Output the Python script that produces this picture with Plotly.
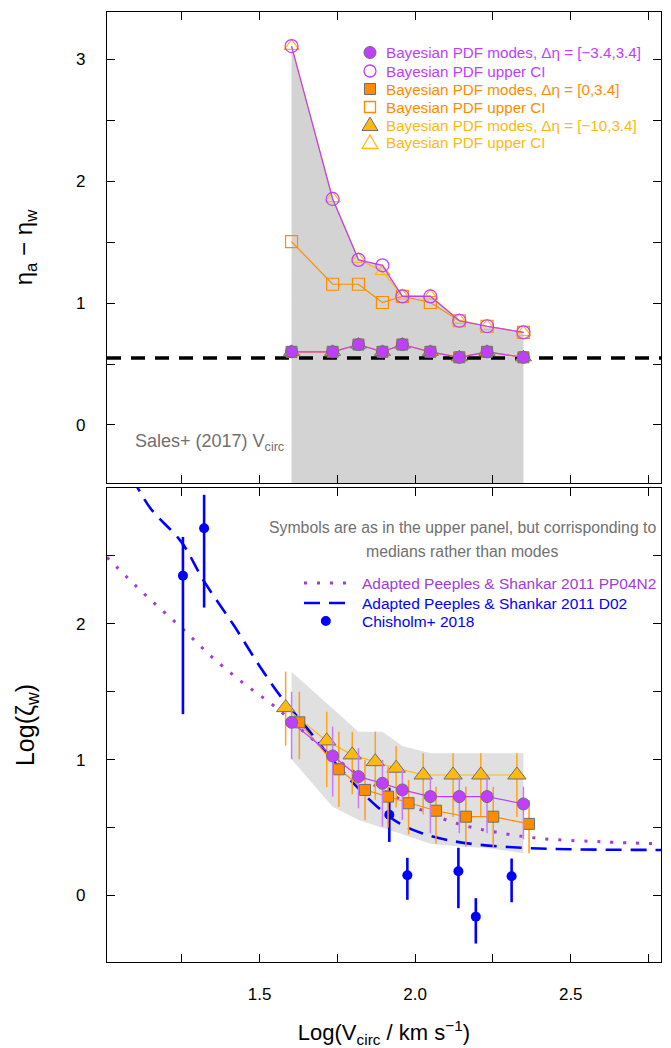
import plotly.graph_objects as go

# ---------------- data ----------------
# Upper panel: Bayesian PDF modes and upper credible intervals
x_up = [1.603, 1.735, 1.818, 1.895, 1.959, 2.049, 2.142, 2.231, 2.348]
mode_c = [0.60, 0.60, 0.66, 0.60, 0.66, 0.60, 0.555, 0.60, 0.555]   # dEta=[-3.4,3.4]
mode_s = [0.60, 0.60, 0.66, 0.60, 0.66, 0.60, 0.555, 0.60, 0.555]   # dEta=[0,3.4]
mode_t = [0.60, 0.60, 0.66, 0.60, 0.66, 0.60, 0.555, 0.60, 0.555]   # dEta=[-10,3.4]
upci_c = [3.11, 1.855, 1.355, 1.31, 1.055, 1.055, 0.855, 0.81, 0.76]
upci_s = [1.505, 1.155, 1.155, 1.005, 1.055, 1.005, 0.855, 0.81, 0.76]
upci_t = [3.11, 1.86, 1.36, 1.26, 1.06, 1.06, 0.86, 0.81, 0.76]
sales_level = 0.55

# Lower panel: medians with error bars
x_med_t = [1.584, 1.716, 1.798, 1.872, 1.939, 2.026, 2.122, 2.211, 2.327]
x_med_c = [1.603, 1.735, 1.818, 1.895, 1.959, 2.049, 2.142, 2.231, 2.348]
x_med_s = [1.628, 1.755, 1.839, 1.913, 1.979, 2.067, 2.163, 2.251, 2.366]
med_t = [1.383, 1.138, 1.035, 0.985, 0.937, 0.887, 0.887, 0.887, 0.887]
med_c = [1.275, 1.027, 0.875, 0.826, 0.777, 0.728, 0.728, 0.728, 0.674]
med_s = [1.275, 0.929, 0.777, 0.728, 0.679, 0.624, 0.580, 0.580, 0.527]
t_plus = [0.265, 0.215, 0.171, 0.221, 0.163, 0.16, 0.16, 0.16, 0.16]
t_minus = [0.28, 0.34, 0.29, 0.28, 0.29, 0.29, 0.31, 0.31, 0.31]
c_plus = [0.225, 0.216, 0.209, 0.172, 0.147, 0.147, 0.147, 0.147, 0.126]
c_minus = [0.272, 0.299, 0.233, 0.319, 0.221, 0.27, 0.27, 0.27, 0.26]
s_plus = [0.225, 0.277, 0.221, 0.22, 0.171, 0.176, 0.22, 0.22, 0.176]
s_minus = [0.272, 0.275, 0.221, 0.228, 0.229, 0.244, 0.22, 0.23, 0.217]
band_top = [1.648, 1.376, 1.206, 1.206, 1.10, 1.047, 1.047, 1.047, 1.047]
band_bot = [1.003, 0.654, 0.556, 0.50, 0.45, 0.38, 0.36, 0.35, 0.31]

# Chisholm+ 2018
ch_x = [1.254, 1.322, 1.917, 1.975, 2.139, 2.195, 2.31]
ch_y = [2.355, 2.704, 0.594, 0.149, 0.178, -0.156, 0.141]
ch_plus = [0.285, 0.246, 0.2, 0.128, 0.173, 0.136, 0.131]
ch_minus = [1.02, 0.584, 0.2, 0.181, 0.272, 0.198, 0.191]

# Adapted Peeples & Shankar 2011 curves
pp_x = [1.01, 1.13, 1.25, 1.35, 1.45, 1.55, 1.65, 1.75, 1.85, 1.95, 2.05, 2.15, 2.25, 2.4, 2.6, 2.79]
pp_y = [2.49, 2.22, 1.97, 1.75, 1.56, 1.39, 1.19, 1.0, 0.84, 0.71, 0.60, 0.52, 0.47, 0.42, 0.395, 0.38]
d02_x = [1.09, 1.15, 1.25, 1.32, 1.42, 1.5, 1.57, 1.65, 1.72, 1.8, 1.88, 1.95, 2.02, 2.1, 2.2, 2.35, 2.5, 2.79]
d02_y = [3.08, 2.85, 2.6, 2.32, 1.98, 1.69, 1.46, 1.24, 1.04, 0.83, 0.65, 0.53, 0.46, 0.41, 0.375, 0.35, 0.34, 0.335]

# axes
X_RANGE = [1.01, 2.79]
Y_UP_RANGE = [-0.477, 3.39]
Y_LO_RANGE = [-0.49, 3.0]
x_ticks = [1.25, 1.5, 1.75, 2.0, 2.25, 2.5, 2.75]
x_ticktext = ["", "1.5", "", "2.0", "", "2.5", ""]
y_up_ticks = [0, 0.5, 1, 1.5, 2, 2.5, 3]
y_up_text = ["0", "", "1", "", "2", "", "3"]
y_lo_ticks = [0, 0.5, 1, 1.5, 2, 2.5, 3]
y_lo_text = ["0", "", "1", "", "2", "", ""]

# ---------------- styles ----------------
PURPLE = "#BF3EFF"
ORANGE = "#FF8C00"
YELLOW = "#FFB90F"
PP_COL = "#A23BDB"
BLUE = "#0000FF"
GREY_TXT = "#707070"
EDGE = "#6E6E6E"
FONT = "Liberation Sans, Arial, sans-serif"

fig = go.Figure()

# ---------- upper panel ----------
fig.add_trace(go.Scatter(x=x_up, y=[Y_UP_RANGE[0] - 1] * len(x_up), mode="lines",
                         line=dict(width=0), hoverinfo="skip", xaxis="x", yaxis="y"))
fig.add_trace(go.Scatter(x=x_up, y=upci_c, mode="lines", fill="tonexty",
                         fillcolor="#D3D3D3", line=dict(width=0), xaxis="x", yaxis="y"))
fig.add_trace(go.Scatter(x=X_RANGE, y=[sales_level, sales_level], mode="lines",
                         line=dict(color="black", width=3.5, dash="14px,10px"),
                         xaxis="x", yaxis="y"))
fig.add_trace(go.Scatter(x=x_up, y=upci_s, mode="lines+markers",
                         line=dict(color=ORANGE, width=1.2),
                         marker=dict(symbol="square-open", size=12, color=ORANGE, line=dict(width=1.2)),
                         xaxis="x", yaxis="y"))
fig.add_trace(go.Scatter(x=x_up, y=upci_t, mode="lines+markers",
                         line=dict(color=YELLOW, width=1.2),
                         marker=dict(symbol="triangle-up-open", size=13, color=YELLOW, line=dict(width=1.2)),
                         xaxis="x", yaxis="y"))
fig.add_trace(go.Scatter(x=x_up, y=upci_c, mode="lines+markers",
                         line=dict(color=PURPLE, width=1.2),
                         marker=dict(symbol="circle-open", size=13, color=PURPLE, line=dict(width=1.2)),
                         xaxis="x", yaxis="y"))
fig.add_trace(go.Scatter(x=x_up, y=mode_s, mode="lines+markers",
                         line=dict(color=ORANGE, width=1.2),
                         marker=dict(symbol="square", size=11, color=ORANGE, line=dict(color=EDGE, width=1)),
                         xaxis="x", yaxis="y"))
fig.add_trace(go.Scatter(x=x_up, y=mode_t, mode="lines+markers",
                         line=dict(color=YELLOW, width=1.2),
                         marker=dict(symbol="triangle-up", size=14, color=YELLOW, line=dict(color=EDGE, width=1)),
                         xaxis="x", yaxis="y"))
fig.add_trace(go.Scatter(x=x_up, y=mode_c, mode="lines+markers",
                         line=dict(color=PURPLE, width=1.2),
                         marker=dict(symbol="circle", size=12, color=PURPLE, line=dict(color=EDGE, width=1)),
                         xaxis="x", yaxis="y"))

# ---------- lower panel ----------
fig.add_trace(go.Scatter(x=x_med_c, y=band_bot, mode="lines", line=dict(width=0),
                         xaxis="x2", yaxis="y2"))
fig.add_trace(go.Scatter(x=x_med_c, y=band_top, mode="lines", fill="tonexty",
                         fillcolor="#E0E0E0", line=dict(width=0), xaxis="x2", yaxis="y2"))
fig.add_trace(go.Scatter(x=pp_x, y=pp_y, mode="lines", line=dict(color=PP_COL, width=3, dash="3px,10px"),
                         line_shape="spline", xaxis="x2", yaxis="y2"))
fig.add_trace(go.Scatter(x=d02_x, y=d02_y, mode="lines", line=dict(color=BLUE, width=2.6, dash="16px,9px"),
                         line_shape="spline", xaxis="x2", yaxis="y2"))
fig.add_trace(go.Scatter(x=ch_x, y=ch_y, mode="markers",
                         marker=dict(symbol="circle", size=10, color=BLUE),
                         error_y=dict(type="data", symmetric=False, array=ch_plus, arrayminus=ch_minus,
                                      color=BLUE, thickness=2.6, width=0),
                         xaxis="x2", yaxis="y2"))
fig.add_trace(go.Scatter(x=x_med_t, y=med_t, mode="lines+markers",
                         line=dict(color=YELLOW, width=1.2),
                         marker=dict(symbol="triangle-up", size=16, color=YELLOW, line=dict(color=EDGE, width=1)),
                         error_y=dict(type="data", symmetric=False, array=t_plus, arrayminus=t_minus,
                                      color="#FFA31A", thickness=1.5, width=0),
                         xaxis="x2", yaxis="y2"))
fig.add_trace(go.Scatter(x=x_med_s, y=med_s, mode="lines+markers",
                         line=dict(color=ORANGE, width=1.2),
                         marker=dict(symbol="square", size=11, color=ORANGE, line=dict(color=EDGE, width=1)),
                         error_y=dict(type="data", symmetric=False, array=s_plus, arrayminus=s_minus,
                                      color="#FF9A1F", thickness=1.5, width=0),
                         xaxis="x2", yaxis="y2"))
fig.add_trace(go.Scatter(x=x_med_c, y=med_c, mode="lines+markers",
                         line=dict(color=PURPLE, width=1.2),
                         marker=dict(symbol="circle", size=12, color=PURPLE, line=dict(color=EDGE, width=1)),
                         error_y=dict(type="data", symmetric=False, array=c_plus, arrayminus=c_minus,
                                      color="#C97BF5", thickness=1.5, width=0),
                         xaxis="x2", yaxis="y2"))

# ---------- axes ----------
common = dict(showline=True, linecolor="black", linewidth=1.4, mirror="allticks",
              ticks="inside", ticklen=8, tickwidth=1.2, tickcolor="black",
              showgrid=False, zeroline=False,
              tickfont=dict(family=FONT, size=17, color="black"))
fig.update_layout(
    xaxis=dict(domain=[0, 1], anchor="y", range=X_RANGE, tickvals=x_ticks,
               showticklabels=False, **common),
    yaxis=dict(domain=[0.5042, 1], anchor="x", range=Y_UP_RANGE, tickvals=y_up_ticks,
               ticktext=y_up_text, ticklabelstandoff=17,
               title=dict(text="η<sub>a</sub> − η<sub>w</sub>", standoff=36,
                          font=dict(family=FONT, size=24, color="black")), **common),
    xaxis2=dict(domain=[0, 1], anchor="y2", range=X_RANGE, tickvals=x_ticks,
                ticktext=x_ticktext, ticklabelstandoff=16,
                title=dict(text="Log(V<sub>circ</sub> / km s<sup>−1</sup>)", standoff=26,
                           font=dict(family=FONT, size=22, color="black")), **common),
    yaxis2=dict(domain=[0, 0.4989], anchor="x2", range=Y_LO_RANGE, tickvals=y_lo_ticks,
                ticktext=y_lo_text, ticklabelstandoff=17,
                title=dict(text="Log(ζ<sub>w</sub>)", standoff=34,
                           font=dict(family=FONT, size=25, color="black")), **common),
)

# ---------- legends (annotations + symbol shapes) ----------
annotations = []
shapes = []
up_rows = [0.914, 0.8747, 0.8365, 0.7983, 0.760, 0.7219]
up_texts = ["Bayesian PDF modes, Δη = [−3.4,3.4]", "Bayesian PDF upper CI",
            "Bayesian PDF modes, Δη = [0,3.4]", "Bayesian PDF upper CI",
            "Bayesian PDF modes, Δη = [−10,3.4]", "Bayesian PDF upper CI"]
up_cols = [PURPLE, PURPLE, ORANGE, ORANGE, YELLOW, YELLOW]
for yy, tt, cc in zip(up_rows, up_texts, up_cols):
    annotations.append(dict(xref="x domain", yref="y domain", x=0.5, y=yy, xanchor="left",
                            yanchor="middle", showarrow=False, text=tt,
                            font=dict(family=FONT, size=15.2, color=cc)))
LX = 0.4747
def sym(kind, yy, color, filled, xref="x domain", yref="y domain"):
    base = dict(xref=xref, yref=yref, xsizemode="pixel", ysizemode="pixel",
                xanchor=LX, yanchor=yy, layer="above",
                line=dict(color=(EDGE if filled else color), width=(1 if filled else 1.3)),
                fillcolor=(color if filled else "rgba(0,0,0,0)"))
    if kind == "circle":
        base.update(type="circle", x0=-6, x1=6, y0=-6, y1=6)
    elif kind == "square":
        base.update(type="rect", x0=-5.5, x1=5.5, y0=-5.5, y1=5.5)
    else:
        base.update(type="path", path="M-8,-5.5 L8,-5.5 L0,8 Z")
    return base
shapes.append(sym("circle", up_rows[0], PURPLE, True))
shapes.append(sym("circle", up_rows[1], PURPLE, False))
shapes.append(sym("square", up_rows[2], ORANGE, True))
shapes.append(sym("square", up_rows[3], ORANGE, False))
shapes.append(sym("tri", up_rows[4], YELLOW, True))
shapes.append(sym("tri", up_rows[5], YELLOW, False))

annotations.append(dict(xref="x domain", yref="y domain", x=0.047, y=0.087, xanchor="left",
                        yanchor="middle", showarrow=False, text="Sales+ (2017) V<sub>circ</sub>",
                        font=dict(family=FONT, size=18, color=GREY_TXT)))

# lower legend
annotations.append(dict(xref="x2 domain", yref="y2 domain", x=0.641, y=0.9177, xanchor="center",
                        yanchor="middle", showarrow=False,
                        text="Symbols are as in the upper panel, but corrisponding to",
                        font=dict(family=FONT, size=15.8, color=GREY_TXT)))
annotations.append(dict(xref="x2 domain", yref="y2 domain", x=0.641, y=0.867, xanchor="center",
                        yanchor="middle", showarrow=False, text="medians rather than modes",
                        font=dict(family=FONT, size=15.8, color=GREY_TXT)))
lo_rows = [0.7996, 0.7574, 0.7194]
lo_texts = ["Adapted Peeples & Shankar 2011 PP04N2", "Adapted Peeples & Shankar 2011 D02",
            "Chisholm+ 2018"]
lo_cols = [PP_COL, BLUE, BLUE]
for yy, tt, cc in zip(lo_rows, lo_texts, lo_cols):
    annotations.append(dict(xref="x2 domain", yref="y2 domain", x=0.4567, y=yy, xanchor="left",
                            yanchor="middle", showarrow=False, text=tt,
                            font=dict(family=FONT, size=15.5, color=cc)))
shapes.append(dict(type="line", xref="x2 domain", yref="y2 domain", x0=0.3556, x1=0.4332,
                   y0=lo_rows[0], y1=lo_rows[0], line=dict(color=PP_COL, width=3, dash="3px,10px")))
shapes.append(dict(type="line", xref="x2 domain", yref="y2 domain", x0=0.3556, x1=0.4332,
                   y0=lo_rows[1], y1=lo_rows[1], line=dict(color=BLUE, width=2.6, dash="16px,9px")))
shapes.append(dict(type="circle", xref="x2 domain", yref="y2 domain", xsizemode="pixel",
                   ysizemode="pixel", xanchor=0.395, yanchor=lo_rows[2], x0=-5, x1=5, y0=-5, y1=5,
                   fillcolor=BLUE, line=dict(color=BLUE, width=0)))

fig.update_layout(
    width=671, height=1048,
    margin=dict(l=107, r=10, t=12, b=86, autoexpand=False),
    paper_bgcolor="white", plot_bgcolor="white",
    showlegend=False,
    annotations=annotations, shapes=shapes,
    font=dict(family=FONT),
)

fig.write_html("out.html")
